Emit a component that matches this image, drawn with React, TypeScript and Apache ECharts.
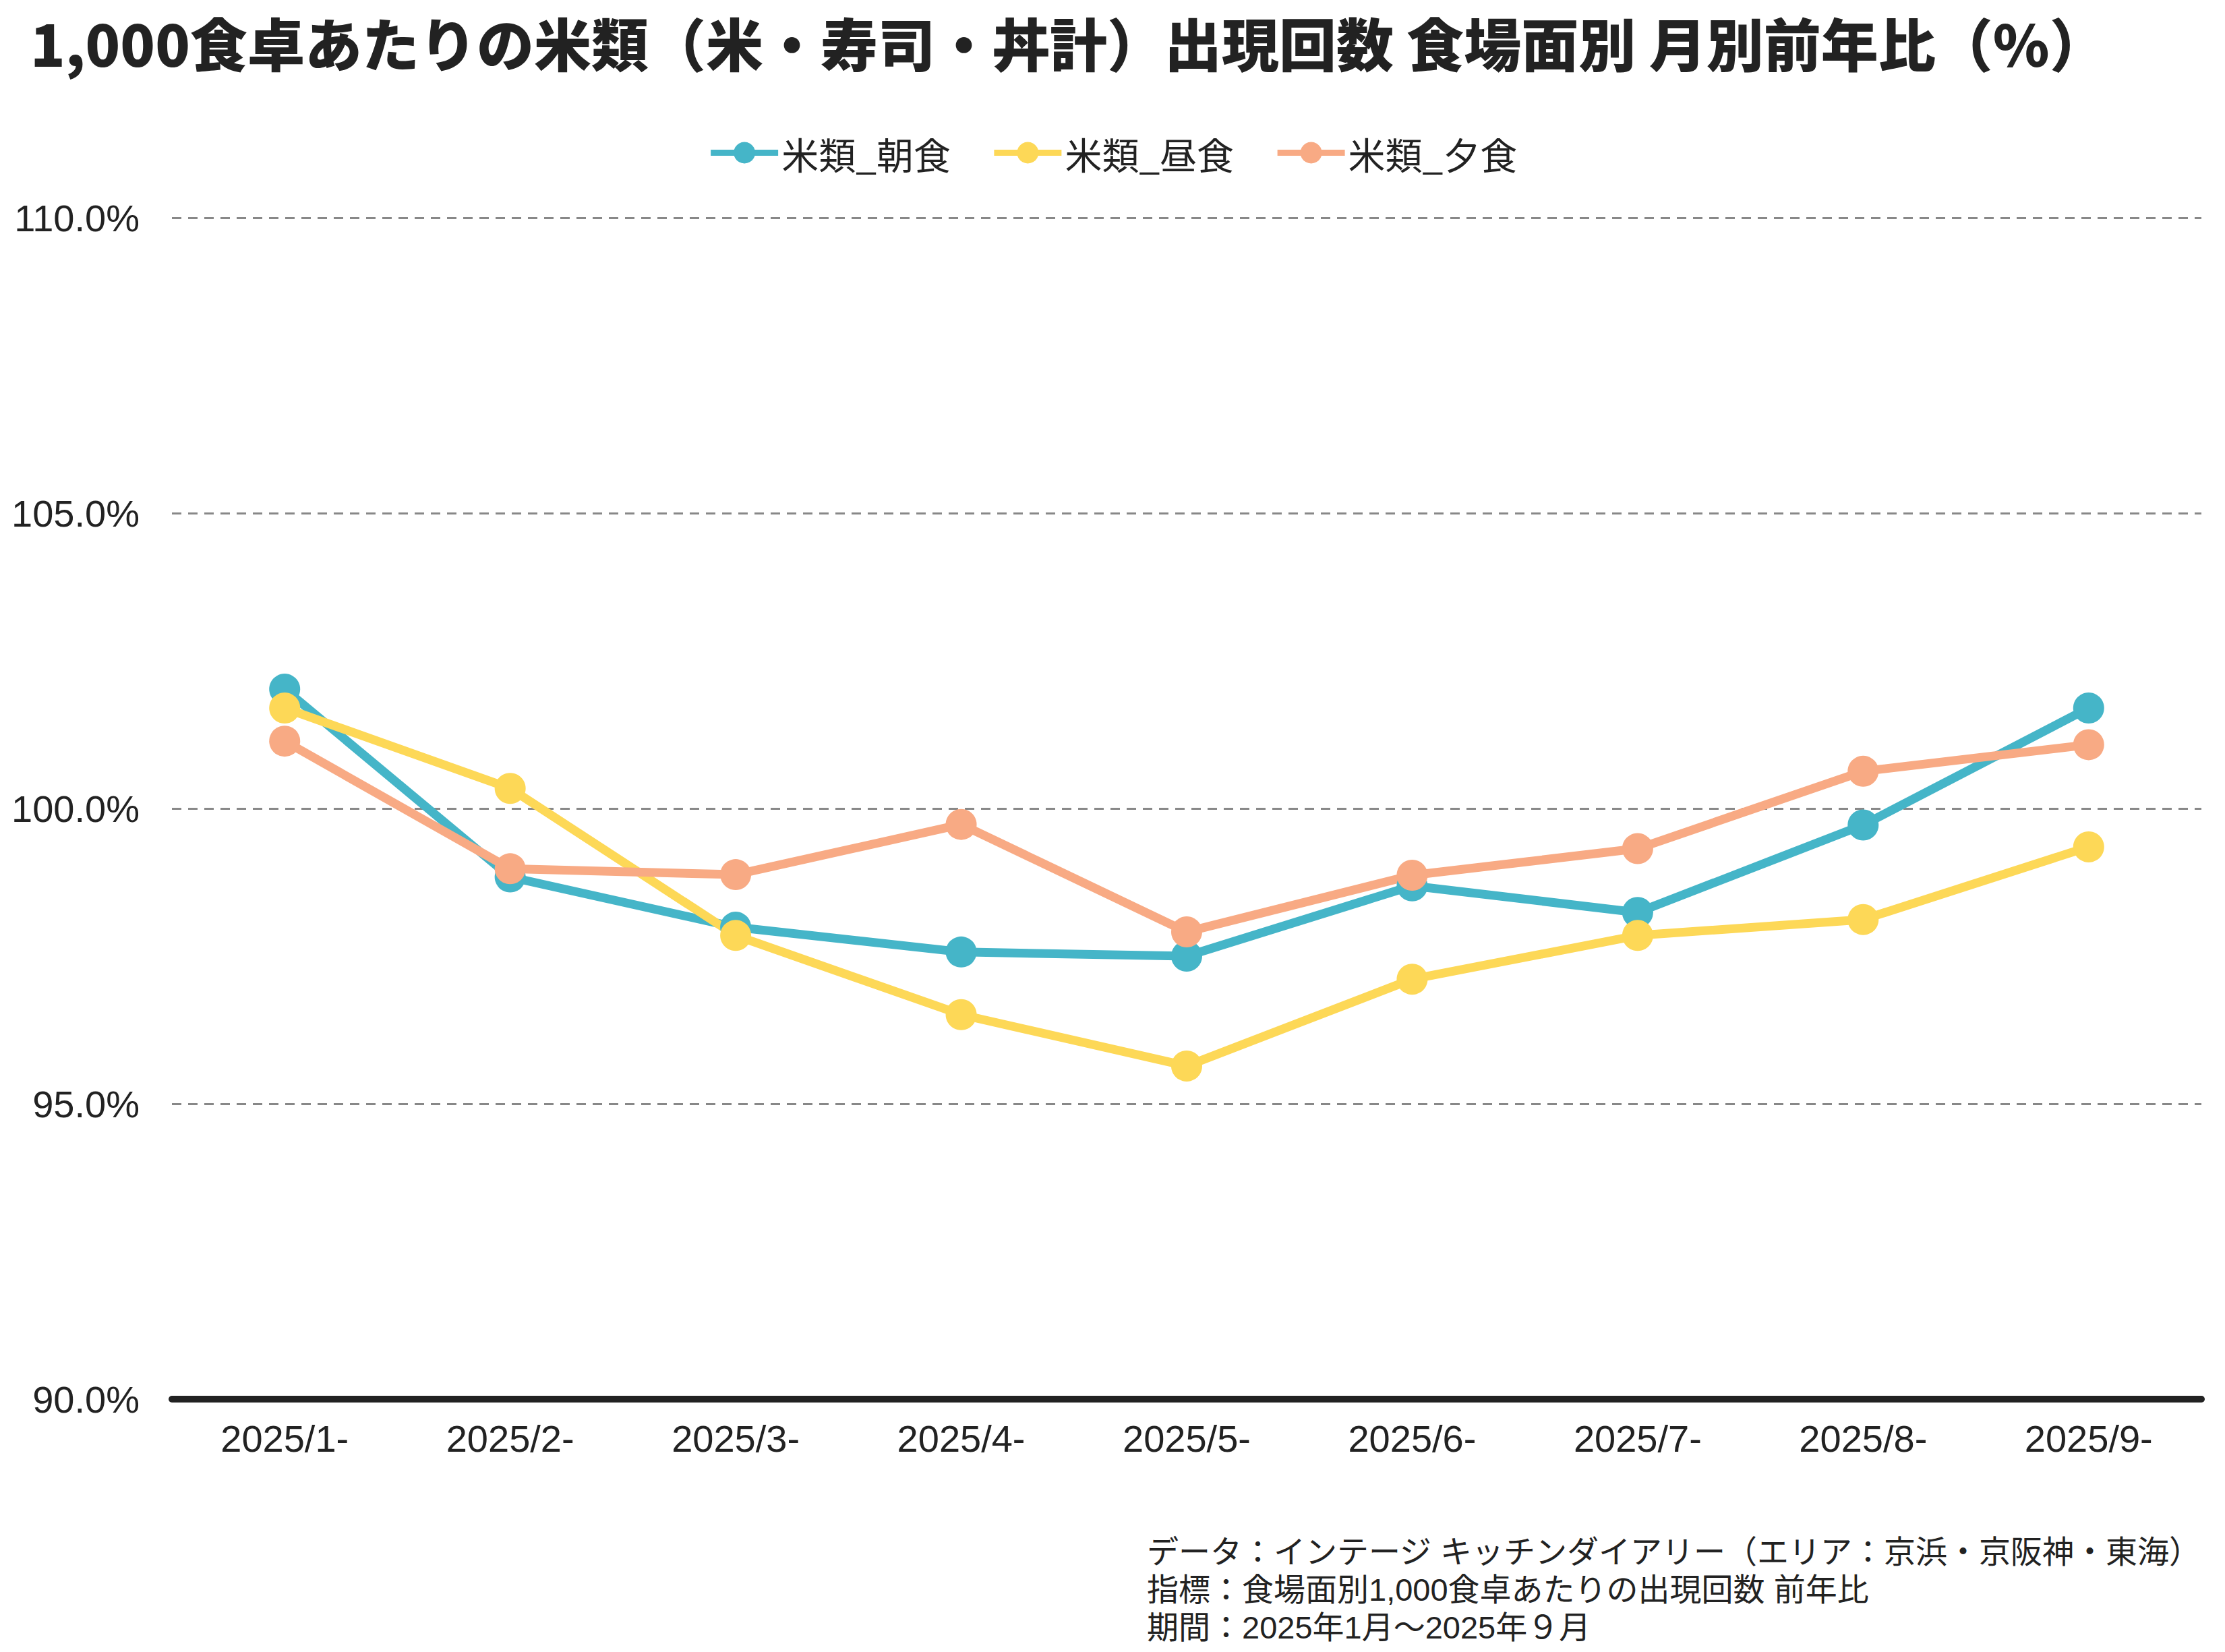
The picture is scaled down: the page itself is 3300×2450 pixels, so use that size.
import React, { useEffect, useRef } from "react";
import * as echarts from "echarts";

const titleText = "1,000食卓あたりの米類（米・寿司・丼計）出現回数 食場面別 月別前年比（%）";
const categories = ["2025/1-", "2025/2-", "2025/3-", "2025/4-", "2025/5-", "2025/6-", "2025/7-", "2025/8-", "2025/9-"];
const seriesNames = ["米類_朝食", "米類_昼食", "米類_夕食"];
const breakfast = [102.02, 98.84, 97.99, 97.57, 97.5, 98.69, 98.24, 99.72, 101.7];
const lunch = [101.7, 100.34, 97.85, 96.51, 95.64, 97.11, 97.85, 98.12, 99.35];
const dinner = [101.14, 98.98, 98.88, 99.73, 97.91, 98.87, 99.32, 100.63, 101.08];
const colors = ["#45B5C8", "#FDD857", "#F8AA84"];
const yMin = 90;
const yMax = 110;
const yInterval = 5;
const footerLines = [
  "データ：インテージ キッチンダイアリー（エリア：京浜・京阪神・東海）",
  "指標：食場面別1,000食卓あたりの出現回数 前年比",
  "期間：2025年1月～2025年９月",
];

const CJK = '"Noto Sans CJK JP", "Noto Sans", sans-serif';
const FOOT = '"Liberation Sans", "Noto Sans CJK JP", sans-serif';
const LATIN = '"Liberation Sans", Arial, sans-serif';

export default function App() {
  const ref = useRef<HTMLDivElement>(null);
  useEffect(() => {
    document.body.style.margin = "0";
    if (!ref.current) return;
    const chart = echarts.init(ref.current, undefined, { renderer: "svg" });
    const values = [breakfast, lunch, dinner];
    chart.setOption({
      animation: false,
      backgroundColor: "#ffffff",
      title: {
        text: titleText,
        left: 40,
        top: 14,
        textStyle: { fontFamily: CJK, fontSize: 85, fontWeight: 900, color: "#222222" },
      },
      legend: {
        data: seriesNames,
        top: 194,
        left: "center",
        itemWidth: 100,
        itemHeight: 40,
        itemGap: 60,
        lineStyle: { width: 9 },
        textStyle: { fontFamily: CJK, fontSize: 55, color: "#222222" },
      },
      grid: { left: 255, right: 35, top: 323, bottom: 375, containLabel: false },
      xAxis: {
        type: "category",
        data: categories,
        boundaryGap: true,
        axisLine: { show: true, onZero: false, lineStyle: { color: "#222222", width: 10, cap: "round" } },
        axisTick: { show: false },
        axisLabel: { fontFamily: LATIN, fontSize: 56, color: "#222222", margin: 30 },
        splitLine: { show: false },
      },
      yAxis: {
        type: "value",
        min: yMin,
        max: yMax,
        interval: yInterval,
        axisLine: { show: false },
        axisTick: { show: false },
        axisLabel: {
          fontFamily: LATIN,
          fontSize: 56,
          color: "#222222",
          margin: 48,
          formatter: (v: number) => `${v.toFixed(1)}%`,
        },
        splitLine: { show: true, lineStyle: { color: "#888888", width: 3, type: [14, 10] } },
      },
      series: seriesNames.map((name, i) => ({
        name,
        type: "line",
        data: values[i],
        symbol: "circle",
        symbolSize: 46,
        lineStyle: { color: colors[i], width: 13 },
        itemStyle: { color: colors[i] },
        emphasis: { disabled: true },
      })),
      graphic: footerLines.map((t, i) => ({
        type: "text",
        left: 1701,
        top: 2278 + i * 56,
        style: { text: t, fontFamily: FOOT, fontSize: 47, fill: "#222222" },
      })),
    });
    return () => chart.dispose();
  }, []);
  return <div ref={ref} style={{ width: 3300, height: 2450 }} />;
}
